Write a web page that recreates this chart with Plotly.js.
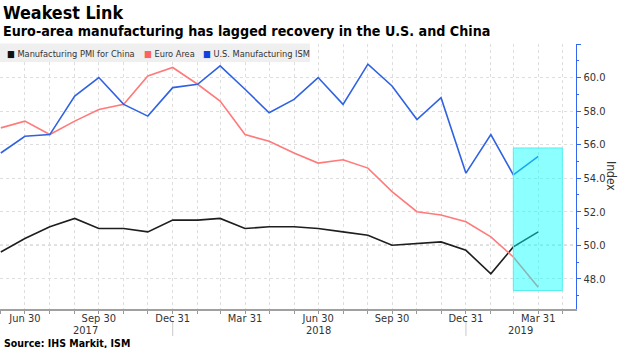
<!DOCTYPE html>
<html>
<head>
<meta charset="utf-8">
<script src="https://cdn.plot.ly/plotly-3.0.1.min.js"></script>
<style>html,body{margin:0;padding:0;background:#fff;}#chart{width:620px;height:348px;}</style>
</head>
<body>
<div id="chart"></div>
<script>
// ---- data ----
const months = ['2017-05-31','2017-06-30','2017-07-31','2017-08-31','2017-09-30','2017-10-31','2017-11-30','2017-12-31',
  '2018-01-31','2018-02-28','2018-03-31','2018-04-30','2018-05-31','2018-06-30','2018-07-31','2018-08-31','2018-09-30',
  '2018-10-31','2018-11-30','2018-12-31','2019-01-31','2019-02-28','2019-03-31'];
const chinaPMI = [49.6,50.4,51.1,51.6,51.0,51.0,50.8,51.5,51.5,51.6,51.0,51.1,51.1,51.0,50.8,50.6,50.0,50.1,50.2,49.7,48.3,49.9,50.8];
const euroArea = [57.0,57.4,56.6,57.4,58.1,58.4,60.1,60.6,59.6,58.6,56.6,56.2,55.5,54.9,55.1,54.6,53.2,52.0,51.8,51.4,50.5,49.3,47.5];
const usISM    = [55.5,56.5,56.6,58.9,60.0,58.4,57.7,59.4,59.6,60.7,59.3,57.9,58.7,60.0,58.4,60.8,59.5,57.5,58.8,54.3,56.6,54.2,55.3];
const seriesNames = ['Manufacturing PMI for China','Euro Area','U.S. Manufacturing ISM'];

const gridMonths = months.concat(['2019-04-30']);
const quarterTicks = ['2017-06-30','2017-09-30','2017-12-31','2018-03-31','2018-06-30','2018-09-30','2018-12-31','2019-03-31'];
const quarterLabels = ['Jun 30','Sep 30','Dec 31','Mar 31','Jun 30','Sep 30','Dec 31','Mar 31'];
const yearLabels = ['2017','2018','2019'];
const yearBreaks = ['2017-12-31','2018-12-31'];
const yTickVals = [48,50,52,54,56,58,60,62];
const yTickText = ['48.0','50.0','52.0','54.0','56.0','58.0','60.0',''];
const refLevel = 50;
const highlightX = ['2019-02-28','2019-04-30'];
const highlightY = [47.3, 55.8];

// ---- layout constants ----
const W = 620, H = 348, ML = 0, MR = 44, MT = 44, MB = 39;
const PW = W - ML - MR, PH = H - MT - MB;
const px = v => (v - ML) / PW;
const py = v => (H - MB - v) / PH;
const xRange = ['2017-05-30','2019-05-17'];
const FONT = 'DejaVu Sans Condensed, DejaVu Sans, sans-serif';

const colors = ['#1e1e1e','#ff7a7a','#2f62e3'];
const legendColors = ['#111111','#ff6060','#1040e0'];

const traces = [chinaPMI, euroArea, usISM].map((ys, i) => ({
  type: 'scatter', mode: 'lines', x: months, y: ys, name: seriesNames[i],
  line: {color: colors[i], width: 1.6}, showlegend: false, hoverinfo: 'skip'
}));

const xTickText = gridMonths.map(d => {
  const k = quarterTicks.indexOf(d);
  return k >= 0 ? quarterLabels[k] : '';
});

// year label positions: middle of each visible year segment
const bounds = [xRange[0]].concat(yearBreaks, [xRange[1]]).map(d => new Date(d).getTime());
const yearAnn = yearLabels.map((t, i) => ({
  xref: 'x', yref: 'paper', x: new Date((bounds[i] + bounds[i+1]) / 2).toISOString().slice(0,10),
  y: py(330.5), yanchor: 'middle', xanchor: 'center', showarrow: false, text: t,
  font: {family: FONT, size: 11, color: '#333'}
}));

const legendX = [5, 142, 201];
const legendAnn = seriesNames.map((n, i) => ({
  xref: 'paper', yref: 'paper', x: px(legendX[i]), y: py(53), xanchor: 'left', yanchor: 'middle',
  showarrow: false, align: 'left',
  text: '<span style="color:' + legendColors[i] + '">■</span> ' + n,
  font: {family: FONT, size: 9.2, color: '#333'}
}));

const shapes = [
  {type: 'line', xref: 'paper', yref: 'y', x0: 0, x1: 1, y0: refLevel, y1: refLevel,
   line: {color: '#8a8a8a', width: 1, dash: 'dot'}, layer: 'below'},
  {type: 'rect', xref: 'paper', yref: 'paper', x0: 0, x1: px(310), y0: py(62), y1: py(43.5),
   fillcolor: '#efefef', line: {width: 0}, layer: 'above'},
  {type: 'rect', xref: 'x', yref: 'y', x0: highlightX[0], x1: highlightX[1], y0: highlightY[0], y1: highlightY[1],
   fillcolor: 'rgba(0,255,255,0.45)', line: {color: '#55eeee', width: 1}, layer: 'above'}
].concat(yearBreaks.map(d => ({
  type: 'line', xref: 'x', yref: 'paper', x0: d, x1: d, y0: py(322), y1: py(336),
  line: {color: '#c8c8c8', width: 1}
})));

const annotations = [
  {xref: 'paper', yref: 'paper', x: px(1), y: py(12.5), xanchor: 'left', yanchor: 'middle', showarrow: false,
   text: '<b>Weakest Link</b>', font: {family: FONT, size: 17.8, color: '#000'}},
  {xref: 'paper', yref: 'paper', x: px(1), y: py(31.5), xanchor: 'left', yanchor: 'middle', showarrow: false,
   text: '<b>Euro-area manufacturing has lagged recovery in the U.S. and China</b>', font: {family: FONT, size: 14.2, color: '#000'}},
  {xref: 'paper', yref: 'paper', x: px(2), y: py(342.5), xanchor: 'left', yanchor: 'middle', showarrow: false,
   text: '<b>Source: IHS Markit, ISM</b>', font: {family: FONT, size: 10.5, color: '#000'}},
  {xref: 'paper', yref: 'paper', x: px(611), y: py(176), xanchor: 'center', yanchor: 'middle', showarrow: false,
   textangle: 90, text: 'Index', font: {family: FONT, size: 12, color: '#333'}}
].concat(legendAnn, yearAnn);

const layout = {
  width: W, height: H, margin: {l: ML, r: MR, t: MT, b: MB, pad: 0},
  paper_bgcolor: '#fff', plot_bgcolor: '#fff',
  font: {family: FONT, size: 11, color: '#333'},
  showlegend: false,
  xaxis: {
    type: 'date', range: xRange, tickmode: 'array', tickvals: gridMonths, ticktext: xTickText,
    ticks: 'outside', ticklen: 3, tickcolor: '#999', tickwidth: 1,
    showline: true, linecolor: '#a0a0a0', linewidth: 1.5,
    showgrid: true, gridcolor: '#dedede', griddash: 'dot', gridwidth: 1,
    zeroline: false, tickfont: {family: FONT, size: 11, color: '#333'}, ticklabelstandoff: -5
  },
  yaxis: {
    side: 'right', range: [46.2, 62], tickmode: 'array', tickvals: yTickVals, ticktext: yTickText,
    ticks: 'outside', ticklen: 4, tickcolor: '#3366ee', tickwidth: 1,
    showline: true, linecolor: '#3366ee', linewidth: 1.3,
    showgrid: true, gridcolor: '#dedede', griddash: 'dot', gridwidth: 1, zeroline: false,
    minor: {dtick: 1, tick0: 0, ticks: 'outside', ticklen: 2, tickcolor: '#3366ee', showgrid: false},
    tickfont: {family: FONT, size: 11, color: '#333'}
  },
  shapes: shapes,
  annotations: annotations
};

Plotly.newPlot('chart', traces, layout, {staticPlot: true, displayModeBar: false});
</script>
</body>
</html>
